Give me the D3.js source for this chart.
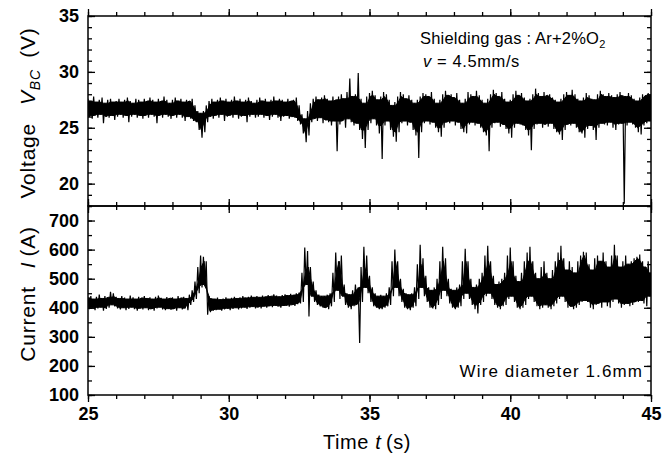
<!DOCTYPE html>
<html><head><meta charset="utf-8">
<script src="https://cdn.jsdelivr.net/npm/d3@7"></script>
<style>
html,body{margin:0;padding:0;background:#fff;}
svg{display:block;}
text{font-family:"Liberation Sans",Arial,sans-serif;fill:#000;}
</style></head>
<body><svg id="c" width="670" height="459"></svg>
<script>
const tStart = 25, tStep = 0.1;
// Voltage V_BC (V): upper / lower envelope of the noisy trace
const vHi = [
27.6,27.4,27.8,27.3,27.5,27.7,27.2,27.5,27.6,27.3,
27.4,27.6,27.3,27.5,27.7,27.4,27.2,27.6,27.5,27.3,
27.6,27.4,27.7,27.5,27.3,27.6,27.4,27.8,27.5,27.2,
27.5,27.7,27.4,27.6,27.3,27.5,27.4,27.6,27.0,26.5,
26.3,26.5,27.0,27.4,27.6,27.3,27.5,27.7,27.4,27.6,
27.3,27.5,27.8,27.4,27.6,27.3,27.5,27.7,27.4,27.2,
27.5,27.7,27.4,27.6,27.3,27.5,27.8,27.4,27.6,27.5,
27.3,27.6,27.4,27.5,27.7,27.0,26.2,25.8,26.5,27.2,
27.6,27.8,27.5,27.7,27.9,27.6,27.4,27.8,27.5,27.8,
28.0,27.6,28.2,29.4,27.8,28.0,29.9,27.6,27.2,27.8,
28.1,28.3,27.9,27.5,27.8,28.2,28.0,27.5,27.0,27.3,
27.8,28.2,28.0,27.6,27.9,27.5,27.2,27.5,27.8,28.1,
28.0,27.8,28.2,27.6,27.2,27.5,28.0,28.3,27.9,28.0,
27.7,28.1,27.5,27.2,27.6,28.2,28.0,27.8,28.3,27.9,
27.5,27.2,27.6,28.0,28.4,28.1,27.8,28.2,27.6,27.3,
27.5,28.0,28.3,27.9,28.1,27.7,27.4,27.6,28.0,28.5,
28.1,27.8,28.2,27.9,28.0,27.7,27.5,27.3,27.6,28.0,
28.2,27.9,28.4,28.0,27.6,27.4,27.7,28.1,27.9,27.6,
27.5,28.0,28.3,28.0,27.8,28.1,27.9,27.7,28.0,28.2,
27.9,27.8,28.1,27.9,27.6,27.4,27.7,28.0,27.9,28.1,
27.9];
const vLo = [
26.0,25.8,26.1,25.9,26.2,25.4,26.0,25.9,26.1,25.7,
26.0,26.2,25.9,26.1,25.5,26.0,26.2,25.9,26.1,25.8,
26.1,25.9,26.2,26.0,25.4,26.1,25.9,26.2,26.0,25.8,
26.1,25.9,26.2,25.9,25.6,26.0,25.8,25.6,25.5,24.8,
24.1,24.6,25.5,26.0,25.8,26.1,25.9,26.2,25.6,26.0,
26.1,25.9,26.2,25.8,26.0,26.1,25.5,26.0,26.2,25.9,
26.0,26.2,25.9,26.1,25.7,26.0,26.2,25.9,25.6,26.0,
26.1,25.8,26.0,25.9,25.6,25.3,24.5,23.7,24.3,25.5,
25.8,25.6,25.9,25.4,25.7,25.5,25.2,25.6,22.9,25.3,
25.6,25.0,25.8,25.5,25.2,25.4,24.8,24.0,23.2,24.8,
25.4,25.8,25.2,24.5,22.2,25.2,25.6,24.8,24.2,23.75,
24.6,25.4,25.6,25.2,25.5,24.8,24.3,22.3,24.6,25.4,
25.6,25.3,25.5,25.0,24.6,24.2,25.0,25.5,25.4,25.6,
25.2,25.5,24.9,24.6,24.5,25.3,25.5,25.2,25.4,25.0,
24.6,24.3,22.9,25.0,25.4,25.5,25.1,25.3,24.9,24.5,
24.1,25.0,25.4,25.3,25.2,24.8,24.3,23.0,24.9,25.3,
25.4,25.0,25.3,25.1,25.4,24.9,24.6,24.4,23.9,24.8,
25.3,25.2,25.4,25.0,24.6,24.5,24.1,24.9,25.2,24.8,
23.9,25.0,25.4,25.3,25.2,25.5,25.0,24.8,25.3,25.4,
18.2,25.2,25.5,25.3,25.0,24.6,24.4,25.2,25.4,25.6,
25.5];
// Current I (A): upper / lower envelope
const iHi = [
435,440,430,438,445,432,440,436,455,450,
438,432,440,435,430,442,436,430,438,434,
440,432,436,430,438,442,434,430,437,433,
436,430,440,434,438,432,445,460,490,540,
580,575,560,440,432,430,435,428,432,436,
430,434,438,432,436,440,434,438,442,436,
440,436,442,438,444,440,446,442,438,444,
446,442,448,444,450,452,520,607,595,540,
490,460,445,440,440,445,450,520,590,560,
580,480,450,445,460,480,470,540,610,580,
510,470,450,440,445,440,450,470,560,600,
560,500,465,450,445,450,470,550,617,570,
510,470,460,470,500,560,610,570,500,465,
460,470,480,560,603,560,500,470,480,500,
520,580,613,560,510,480,490,500,520,580,
607,560,510,490,520,560,590,610,560,520,
500,540,560,520,500,530,560,590,613,570,
530,560,540,520,560,580,593,590,550,530,
570,580,560,590,560,540,580,617,580,540,
560,580,550,560,570,575,583,560,540,560,
520];
const iLo = [
395,400,392,398,402,390,396,400,410,405,
398,394,400,392,396,402,395,390,398,394,
400,392,396,390,398,402,394,392,397,393,
396,390,400,394,398,392,410,420,430,450,
470,480,376,385,390,392,395,390,394,398,
392,396,400,394,398,402,396,400,404,398,
402,398,405,400,406,402,408,404,400,406,
408,404,410,406,412,415,420,480,370,440,
420,410,405,400,400,395,405,420,460,430,
440,410,400,395,405,410,279,420,470,450,
420,405,400,395,395,400,405,410,440,470,
440,420,400,395,392,400,405,430,470,440,
420,400,398,395,410,430,460,440,415,400,
395,400,405,430,450,430,410,395,380,410,
420,440,450,430,410,400,395,405,410,430,
440,420,400,395,400,410,430,440,420,405,
395,400,410,400,395,405,415,430,440,420,
400,405,395,400,410,420,425,420,400,395,
410,415,400,420,405,400,420,430,415,400,
410,415,405,410,420,420,425,415,405,440,
430];
// axis tick labels
const timeTicks = [25, 30, 35, 40, 45];
const voltTicks = [20, 25, 30, 35];
const currTicks = [100, 200, 300, 400, 500, 600, 700];
const timeDomain = [25, 45], voltDomain = [18, 35], currDomain = [100, 750];

// ---- layout ----
const L = 88, R = 651, T1 = 16, B1 = 206, T2 = 206, B2 = 395;
const svg = d3.select("#c");
const x = d3.scaleLinear().domain(timeDomain).range([L, R]);
const yV = d3.scaleLinear().domain(voltDomain).range([B1, T1]);
const yI = d3.scaleLinear().domain(currDomain).range([B2, T2]);

const times = vHi.map((_, i) => tStart + i * tStep);
function zig(hi, lo) {
  const pts = [];
  times.forEach((t, i) => { pts.push([t, hi[i]]); pts.push([t + tStep / 2, lo[i]]); });
  return pts;
}
// core band: the part of the trace shared with both neighbours stays solid
function core(lo, hi) {
  const n = lo.length;
  return times.map((t, i) => {
    const p = Math.max(0, i - 1), q = Math.min(n - 1, i + 1);
    let a = Math.max(lo[p], lo[i], lo[q]);
    let b = Math.min(hi[p], hi[i], hi[q]);
    if (a > b) { const m = (a + b) / 2; a = m; b = m; }
    return [t + tStep / 4, a, b];
  });
}
const defs = svg.append("defs");
defs.append("clipPath").attr("id", "cp1").append("rect").attr("x", L).attr("y", T1).attr("width", R - L).attr("height", B1 - T1);
defs.append("clipPath").attr("id", "cp2").append("rect").attr("x", L).attr("y", T2).attr("width", R - L).attr("height", B2 - T2);

function trace(clip, y, hi, lo) {
  svg.append("path").attr("clip-path", clip)
    .attr("d", d3.area().x(d => x(d[0])).y0(d => y(d[1])).y1(d => y(d[2]))(core(lo, hi)))
    .attr("fill", "#000").attr("stroke", "#000").attr("stroke-width", 1);
  svg.append("path").attr("clip-path", clip)
    .attr("d", d3.line().x(d => x(d[0])).y(d => y(d[1]))(zig(hi, lo)))
    .attr("fill", "none").attr("stroke", "#000").attr("stroke-width", 1.2);
}
trace("url(#cp1)", yV, vHi, vLo);
trace("url(#cp2)", yI, iHi, iLo);

// ---- axes (inward ticks) ----
function styleAxis(g) {
  g.select(".domain").remove();
  g.selectAll("line").attr("stroke", "#000").attr("stroke-width", 1.3);
  g.selectAll("text").attr("font-size", 18).attr("font-weight", "bold");
}
const minorT = d3.range(25, 45.01, 1);
const minorV = d3.range(18, 35.01, 1);
const minorI = d3.range(100, 750.01, 50);
function addTicks(axisFn, scale, pos, major, minor, labels) {
  const g1 = svg.append("g").attr("transform", pos).call(axisFn(scale).tickValues(minor).tickSize(-4).tickFormat(""));
  styleAxis(g1);
  const a = axisFn(scale).tickValues(major).tickSize(-7).tickPadding(9);
  if (!labels) a.tickFormat("");
  const g2 = svg.append("g").attr("transform", pos).call(a);
  styleAxis(g2);
  return g2;
}
// top panel
addTicks(d3.axisLeft, yV, `translate(${L},0)`, voltTicks, minorV, true);
addTicks(d3.axisRight, yV, `translate(${R},0)`, voltTicks, minorV, false);
addTicks(d3.axisBottom, x, `translate(0,${T1})`, timeTicks, minorT, false);
addTicks(d3.axisTop, x, `translate(0,${B1})`, timeTicks, minorT, false);
// bottom panel
addTicks(d3.axisLeft, yI, `translate(${L},0)`, currTicks, minorI, true);
addTicks(d3.axisRight, yI, `translate(${R},0)`, currTicks, minorI, false);
addTicks(d3.axisBottom, x, `translate(0,${T2})`, timeTicks, minorT, false);
addTicks(d3.axisTop, x, `translate(0,${B2})`, timeTicks, minorT, false);
const gxl = svg.append("g").attr("transform", `translate(0,${B2})`)
  .call(d3.axisBottom(x).tickValues(timeTicks).tickSize(0).tickPadding(12));
styleAxis(gxl);

// frames
[[T1, B1], [T2, B2]].forEach(([t, b]) => {
  svg.append("rect").attr("x", L).attr("y", t).attr("width", R - L).attr("height", b - t)
    .attr("fill", "none").attr("stroke", "#000").attr("stroke-width", 1.5);
});

// ---- labels ----
svg.append("text").attr("x", 367).attr("y", 449).attr("text-anchor", "middle").attr("font-size", 20)
  .attr("letter-spacing", 0.6)
  .call(t => { t.append("tspan").text("Time "); t.append("tspan").attr("font-style", "italic").text("t"); t.append("tspan").text("\u2009(s)"); });

svg.append("text").attr("transform", "translate(35,113) rotate(-90)").attr("text-anchor", "middle").attr("font-size", 21)
  .attr("letter-spacing", 0.8)
  .call(t => {
    t.append("tspan").text("Voltage\u2002 ");
    t.append("tspan").attr("font-style", "italic").text("V");
    t.append("tspan").attr("font-style", "italic").attr("font-size", 14).attr("dy", 5).text("BC");
    t.append("tspan").attr("dy", -5).text("\u2002(V)");
  });
svg.append("text").attr("transform", "translate(35,294) rotate(-90)").attr("text-anchor", "middle").attr("font-size", 21)
  .attr("letter-spacing", 0.8)
  .call(t => {
    t.append("tspan").text("Current\u2002 ");
    t.append("tspan").attr("font-style", "italic").text("I");
    t.append("tspan").text("\u2009(A)");
  });

svg.append("text").attr("x", 420).attr("y", 44).attr("font-size", 16.5).attr("letter-spacing", 0.2)
  .call(t => { t.append("tspan").text("Shielding gas : Ar+2%O"); t.append("tspan").attr("font-size", 11).attr("dy", 4).text("2"); });
svg.append("text").attr("x", 423).attr("y", 67).attr("font-size", 16.5).attr("letter-spacing", 0.6)
  .call(t => { t.append("tspan").attr("font-style", "italic").text("v"); t.append("tspan").text(" = 4.5mm/s"); });
svg.append("text").attr("x", 643).attr("y", 377).attr("text-anchor", "end").attr("font-size", 17).attr("letter-spacing", 1.1)
  .text("Wire diameter 1.6mm");
</script></body></html>
